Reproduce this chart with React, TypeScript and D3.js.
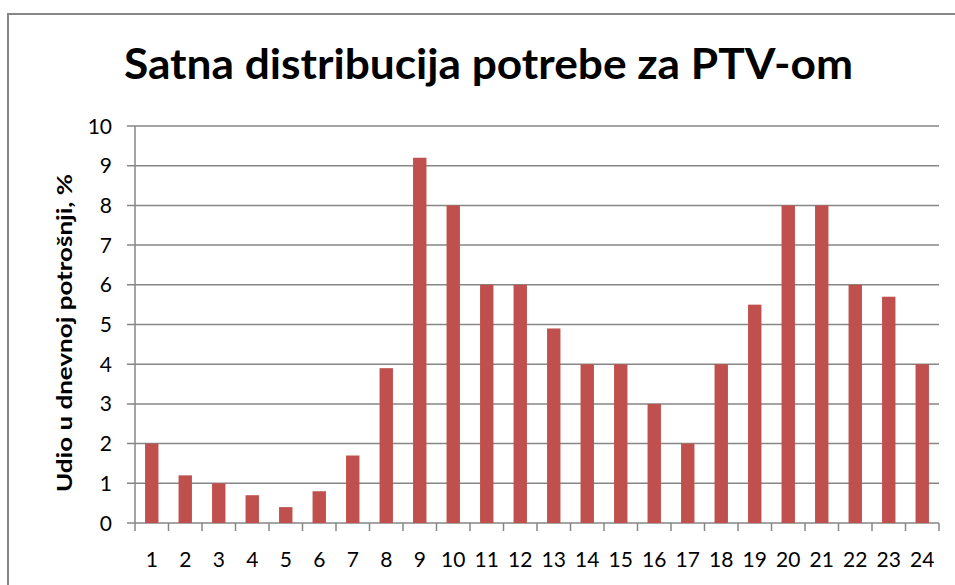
import React from "react";
import * as d3 from "d3";

const hours = ["1","2","3","4","5","6","7","8","9","10","11","12","13","14","15","16","17","18","19","20","21","22","23","24"];
const shares = [2, 1.2, 1, 0.7, 0.4, 0.8, 1.7, 3.9, 9.2, 8, 6, 6, 4.9, 4, 4, 3, 2, 4, 5.5, 8, 8, 6, 5.7, 4];
const yTicks = [0,1,2,3,4,5,6,7,8,9,10];
const title = "Satna distribucija potrebe za PTV-om";
const yTitle = "Udio u dnevnoj potrošnji, %";

const W = 955, H = 585;
const left = 135, right = 939, top = 126, bottom = 523;
const font = "Lato, 'Open Sans', sans-serif";

export default function App() {
  const x = d3.scaleBand<string>().domain(hours).range([left, right]).paddingInner(0.6).paddingOuter(0.3);
  const xb = d3.scaleBand<string>().domain(hours).range([left, right]);
  const y = d3.scaleLinear().domain([0, 10]).range([bottom, top]);
  return (
    <svg width={W} height={H} style={{ position: "absolute", left: 0, top: 0, background: "#fff" }}>
      <rect x={8} y={14} width={990} height={620} fill="#fff" stroke="#868686" strokeWidth={2} />
      <text x={124} y={79} textLength={729} lengthAdjust="spacingAndGlyphs" fontFamily={font} fontWeight="bold" fontSize={42} fill="#000">{title}</text>
      {yTicks.map(t => (
        <g key={t}>
          <line x1={127} x2={right} y1={y(t)} y2={y(t)} stroke="#868686" strokeWidth={1.5} />
          <text x={112} y={y(t)} dy="0.36em" textAnchor="end" fontFamily={font} fontSize={21} fill="#000">{t}</text>
        </g>
      ))}
      <line x1={left} x2={left} y1={top} y2={bottom} stroke="#868686" strokeWidth={1.5} />
      {hours.map((h, i) => (
        <rect key={h} x={x(h)} y={y(shares[i])} width={x.bandwidth()} height={bottom - y(shares[i])} fill="#C0504D" />
      ))}
      {[...hours.map(h => xb(h) as number), right].map((p, i) => (
        <line key={i} x1={p} x2={p} y1={bottom} y2={bottom + 8} stroke="#868686" strokeWidth={1.5} />
      ))}
      {hours.map(h => (
        <text key={h} x={(xb(h) as number) + xb.bandwidth() / 2} y={567} textAnchor="middle" fontFamily={font} fontSize={21} fill="#000">{h}</text>
      ))}
      <text transform={`translate(72,333) rotate(-90)`} textAnchor="middle" textLength={318} lengthAdjust="spacingAndGlyphs" fontFamily={font} fontWeight="bold" fontSize={21} fill="#000">{yTitle}</text>
    </svg>
  );
}
